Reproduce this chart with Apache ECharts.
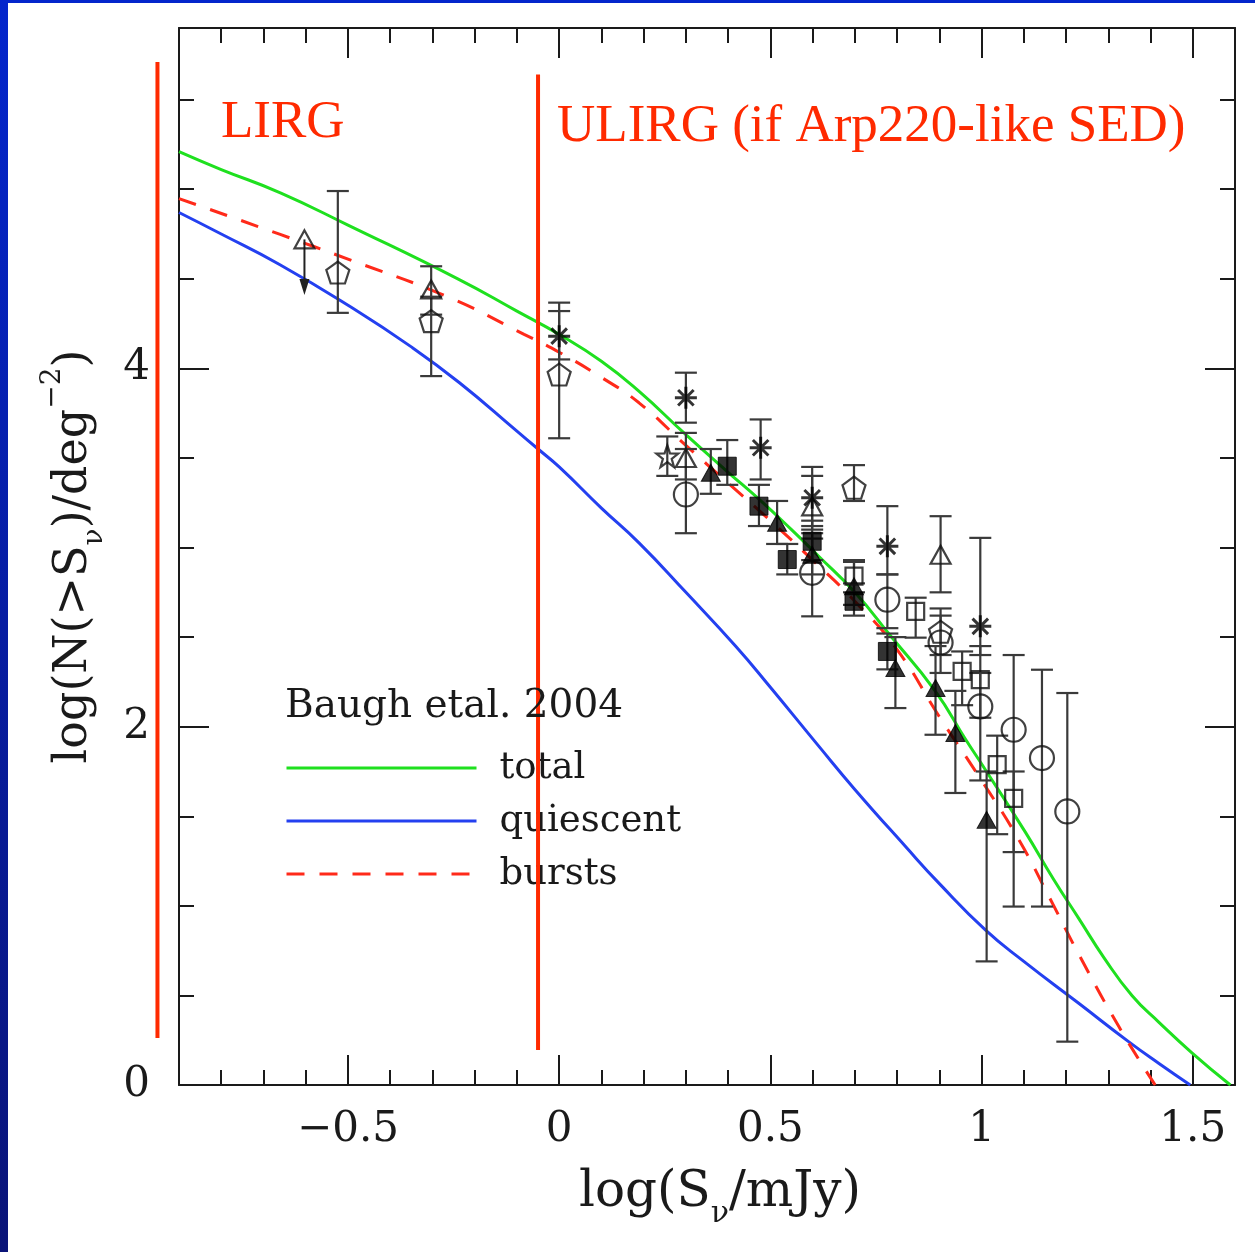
<!DOCTYPE html>
<html><head><meta charset="utf-8">
<script src="https://cdn.jsdelivr.net/npm/echarts@6/dist/echarts.min.js"></script>
<style>html,body{margin:0;padding:0;background:#fff;}#c{width:1255px;height:1252px;}</style>
</head><body><div id="c"></div>
<script>
// ---------------- data ----------------
const xMajorTicks = [-0.5, 0, 0.5, 1, 1.5];
const yMajorTicks = [0, 2, 4];
const xTickLabels = [-0.5, 0, 0.5, 1, 1.5];
const yTickLabels = [0, 2, 4];

// model curves [log S, log N]
const totalCurve = [[-0.9,5.21],[-0.8,5.11],[-0.66,4.98],[-0.5,4.80],[-0.24,4.50],[-0.1,4.32],[0,4.19],[0.1,4.04],[0.19,3.87],[0.3,3.63],[0.4,3.42],[0.473,3.27],[0.55,3.10],[0.615,2.95],[0.7,2.75],[0.78,2.52],[0.89,2.20],[0.962,1.93],[1.009,1.76],[1.104,1.41],[1.17,1.15],[1.23,0.93],[1.29,0.71],[1.356,0.50],[1.42,0.35],[1.498,0.18],[1.589,0]];
const quiescentCurve = [[-0.9,4.87],[-0.8,4.75],[-0.662,4.58],[-0.497,4.348],[-0.35,4.12],[-0.236,3.92],[-0.1,3.65],[-0.05,3.55],[0,3.45],[0.1,3.22],[0.189,3.026],[0.3,2.75],[0.418,2.449],[0.5,2.22],[0.615,1.89],[0.7,1.65],[0.82,1.331],[0.899,1.127],[1.009,0.866],[1.1,0.69],[1.23,0.456],[1.348,0.242],[1.42,0.12],[1.494,0]];
const burstsCurve = [[-0.9,4.948],[-0.662,4.749],[-0.5,4.61],[-0.26,4.395],[-0.083,4.19],[0,4.09],[0.1,3.95],[0.189,3.808],[0.3,3.57],[0.4,3.36],[0.5,3.15],[0.6,2.93],[0.7,2.70],[0.8,2.43],[0.899,2.06],[1.0,1.70],[1.088,1.37],[1.16,1.05],[1.23,0.73],[1.325,0.326],[1.411,0]];

// observed counts [log S, log N, lower, upper]
const openTriangles = [[-0.303,4.44,4.30,4.57],[0.30,3.50,3.38,3.64],[0.599,3.23,3.10,3.40],[0.903,2.96,2.75,3.175]];
const upperLimits = [[-0.603,4.72,4.41]];
const openPentagons = [[-0.524,4.535,4.31,4.99],[-0.303,4.264,3.957,4.40],[0.0,3.966,3.61,4.32],[0.698,3.334,3.26,3.46],[0.903,2.53,2.40,2.66]];
const asterisks = [[0.0,4.18,4.05,4.367],[0.30,3.836,3.697,3.976],[0.477,3.557,3.38,3.715],[0.599,3.278,3.12,3.45],[0.777,3.007,2.85,3.231],[0.997,2.56,2.40,3.054]];
const openCircles = [[0.30,3.296,3.08,3.55],[0.599,2.859,2.616,3.05],[0.777,2.709,2.55,2.85],[0.903,2.47,2.30,2.62],[0.997,2.113,1.70,2.30],[1.076,1.983,0.996,2.40],[1.143,1.825,0.996,2.318],[1.203,1.527,0.242,2.188]];
const filledSquares = [[0.398,3.454,3.35,3.60],[0.473,3.231,3.12,3.35],[0.54,2.933,2.85,3.02],[0.599,3.035,2.93,3.15],[0.698,2.70,2.62,2.80],[0.777,2.42,2.32,2.52]];
const filledTriangles = [[0.359,3.417,3.30,3.55],[0.516,3.138,3.02,3.26],[0.599,2.96,2.85,3.08],[0.698,2.784,2.68,2.92],[0.796,2.328,2.104,2.50],[0.891,2.216,1.955,2.45],[0.938,1.965,1.63,2.20],[1.012,1.48,0.69,1.75]];
const openSquares = [[0.698,2.84,2.75,2.93],[0.844,2.644,2.497,2.72],[0.954,2.309,2.12,2.42],[0.997,2.263,2.05,2.45],[1.037,1.788,1.40,1.95],[1.076,1.60,1.30,1.75]];
const openStars = [[0.256,3.51,3.40,3.62]];

// annotation lines (flux limits) [x, yBottom, yTop]
const limitLines = [[-0.951,0.263,5.71],[-0.05,0.196,5.64]];
const regionLabels = ['LIRG', 'ULIRG (if Arp220-like SED)'];
const legendTitle = 'Baugh etal. 2004';
const seriesNames = ['total', 'quiescent', 'bursts'];

// ---------------- chart ----------------
const chart = echarts.init(document.getElementById('c'));
const CM = '"DejaVu Serif", serif';
const INK = '#1a1a1a';
const fmt = v => (v < 0 ? '\u2212' : '') + Math.abs(v);

function xAx(pos, major, showLine, showLabel) {
  const a = {type:'value', min:-0.9, max:1.6, position:pos, splitLine:{show:false},
    axisLine:{show:showLine, onZero:false, lineStyle:{color:INK, width:2}},
    axisTick:{show:true, inside:true, length: major ? 30 : 15, lineStyle:{color:INK, width:2}},
    axisLabel:{show:false}};
  if (major) a.axisTick.customValues = xMajorTicks; else a.interval = 0.1;
  if (showLabel) a.axisLabel = {show:true, customValues:xTickLabels, formatter:fmt, fontFamily:CM, fontSize:42, color:INK, margin:24};
  return a;
}
function yAx(pos, major, showLine, showLabel) {
  const a = {type:'value', min:0, max:5.9, position:pos, splitLine:{show:false},
    axisLine:{show:showLine, onZero:false, lineStyle:{color:INK, width:2}},
    axisTick:{show:true, inside:true, length: major ? 30 : 15, lineStyle:{color:INK, width:2}},
    axisLabel:{show:false}};
  if (major) a.axisTick.customValues = yMajorTicks; else a.interval = 0.5;
  if (showLabel) a.axisLabel = {show:true, customValues:yTickLabels, formatter:fmt, fontFamily:CM, fontSize:42, color:INK, margin:29};
  return a;
}

const xAxes = [xAx('bottom', false, true, true), xAx('bottom', true, false, false), xAx('top', false, true, false), xAx('top', true, false, false)];
xAxes[0].name = 'log(S{sub|\u03bd}/mJy)';
xAxes[0].nameLocation = 'middle';
xAxes[0].nameGap = 72;
xAxes[0].nameTextStyle = {fontFamily:CM, fontSize:50, color:INK, lineHeight:72, padding:[0,0,0,26],
  rich:{sub:{fontFamily:CM, fontSize:30, color:INK, verticalAlign:'bottom', lineHeight:30}}};
const yAxes = [yAx('left', false, true, true), yAx('left', true, false, false), yAx('right', false, true, false), yAx('right', true, false, false)];
yAxes[0].name = 'log(N(>S{sub|\u03bd})/deg{sup|\u22122})';
yAxes[0].nameLocation = 'middle';
yAxes[0].nameGap = 70;
yAxes[0].nameTextStyle = {fontFamily:CM, fontSize:46, color:INK, lineHeight:70,
  rich:{sub:{fontFamily:CM, fontSize:28, color:INK, verticalAlign:'bottom', lineHeight:28},
        sup:{fontFamily:CM, fontSize:28, color:INK, verticalAlign:'top', lineHeight:28}}};

const ERR = {stroke:'#3a3a3a', lineWidth:2.2};
function errItem(params, api) {
  const x = api.value(0), lo = api.value(2), hi = api.value(3);
  const a = api.coord([x, lo]), b = api.coord([x, hi]);
  const c = 11;
  return {type:'group', children:[
    {type:'line', shape:{x1:a[0], y1:a[1], x2:b[0], y2:b[1]}, style:ERR},
    {type:'line', shape:{x1:a[0]-c, y1:a[1], x2:a[0]+c, y2:a[1]}, style:ERR},
    {type:'line', shape:{x1:b[0]-c, y1:b[1], x2:b[0]+c, y2:b[1]}, style:ERR}
  ]};
}
function arrowItem(params, api) {
  const x = api.value(0), y = api.value(1), lo = api.value(2);
  const a = api.coord([x, y]), b = api.coord([x, lo]);
  return {type:'group', children:[
    {type:'line', shape:{x1:a[0], y1:a[1], x2:b[0], y2:b[1]-6}, style:{stroke:'#222', lineWidth:2}},
    {type:'polygon', shape:{points:[[b[0]-5,b[1]-16],[b[0]+5,b[1]-16],[b[0],b[1]]]}, style:{fill:'#222'}}
  ]};
}
function limitItem(params, api) {
  const x = api.value(0);
  const a = api.coord([x, api.value(1)]), b = api.coord([x, api.value(2)]);
  return {type:'line', shape:{x1:a[0], y1:a[1], x2:b[0], y2:b[1]}, style:{stroke:'#ff2a00', lineWidth:4}};
}

const allErr = [].concat(openTriangles, openPentagons, asterisks, openCircles, filledSquares, filledTriangles, openSquares, openStars);

const OPEN = {color:'rgba(255,255,255,0)', borderColor:'#111', borderWidth:2.2};
const FILL = {color:'#000', borderColor:'#000', borderWidth:1};
const PENT = 'path://M0,-10L9.51,-3.09L5.88,8.09L-5.88,8.09L-9.51,-3.09Z';
const STAR = 'path://M0,-10L2.35,-3.24L9.51,-3.09L3.8,1.24L5.88,8.09L0,4L-5.88,8.09L-3.8,1.24L-9.51,-3.09L-2.35,-3.24Z';
const ASTER = 'path://M0,-10L0,10M-10,0L10,0M-7.07,-7.07L7.07,7.07M-7.07,7.07L7.07,-7.07';
function scat(data, symbol, size, style) {
  return {type:'scatter', data:data.map(d => [d[0], d[1]]), symbol, symbolSize:size, itemStyle:style, z:5, silent:true};
}

chart.setOption({
  animation:false,
  grid:{left:179, top:28, width:1056, height:1057, containLabel:false, outerBoundsMode:'none'},
  xAxis:xAxes, yAxis:yAxes,
  title:{text:legendTitle, left:280, top:682, textStyle:{fontFamily:CM, fontSize:39, fontWeight:'normal', color:INK}},
  legend:{data:seriesNames, orient:'vertical', left:285, top:748, padding:0, itemWidth:190, itemHeight:14, itemGap:13,
    selectedMode:false, itemStyle:{color:'rgba(0,0,0,0)', borderWidth:0, opacity:0},
    lineStyle:{width:3},
    textStyle:{fontFamily:CM, fontSize:37, color:INK, lineHeight:40, padding:[0,0,0,18]}},
  graphic:[
    {type:'rect', left:0, top:0, shape:{width:8, height:1252}, style:{fill:{type:'linear', x:0, y:0, x2:0, y2:1,
      colorStops:[{offset:0, color:'#0426cc'},{offset:1, color:'#0a1478'}]}}, z:100},
    {type:'rect', left:0, top:0, shape:{width:1255, height:3}, style:{fill:'#0426cc'}, z:100},
    {type:'text', x:221, y:123, style:{text:regionLabels[0], font:'53px "Liberation Serif"', fill:'#ff2a00', verticalAlign:'middle'}, z:100},
    {type:'text', x:557, y:127, style:{text:regionLabels[1], font:'53px "Liberation Serif"', fill:'#ff2a00', verticalAlign:'middle'}, z:100}
  ],
  series:[
    {name:'total', type:'line', data:totalCurve, symbol:'none', smooth:0.5, lineStyle:{color:'#1fe01f', width:3}, itemStyle:{color:'#1fe01f'}, z:3},
    {name:'quiescent', type:'line', data:quiescentCurve, symbol:'none', smooth:0.5, lineStyle:{color:'#2440f0', width:3}, itemStyle:{color:'#2440f0'}, z:3},
    {name:'bursts', type:'line', data:burstsCurve, symbol:'none', smooth:0.5, lineStyle:{color:'#ff2a1a', width:3, type:[18,15]}, itemStyle:{color:'#ff2a1a'}, z:3},
    {type:'custom', data:limitLines, renderItem:limitItem, encode:{x:0, y:[1,2]}, clip:false, z:6, silent:true},
    {type:'custom', data:allErr, renderItem:errItem, encode:{x:0, y:[1,2,3]}, z:4, silent:true},
    {type:'custom', data:upperLimits, renderItem:arrowItem, encode:{x:0, y:[1,2]}, z:4, silent:true},
    scat(openTriangles.concat(upperLimits), 'triangle', [20,18], OPEN),
    scat(openPentagons, PENT, [23,22], OPEN),
    scat(asterisks, ASTER, 22, {color:'rgba(0,0,0,0)', borderColor:'#000', borderWidth:3}),
    scat(openCircles, 'circle', 24, OPEN),
    scat(filledSquares, 'rect', 18, FILL),
    scat(filledTriangles, 'triangle', [19,17], FILL),
    scat(openSquares, 'rect', 17, OPEN),
    scat(openStars, STAR, 22, OPEN)
  ]
});
</script></body></html>
